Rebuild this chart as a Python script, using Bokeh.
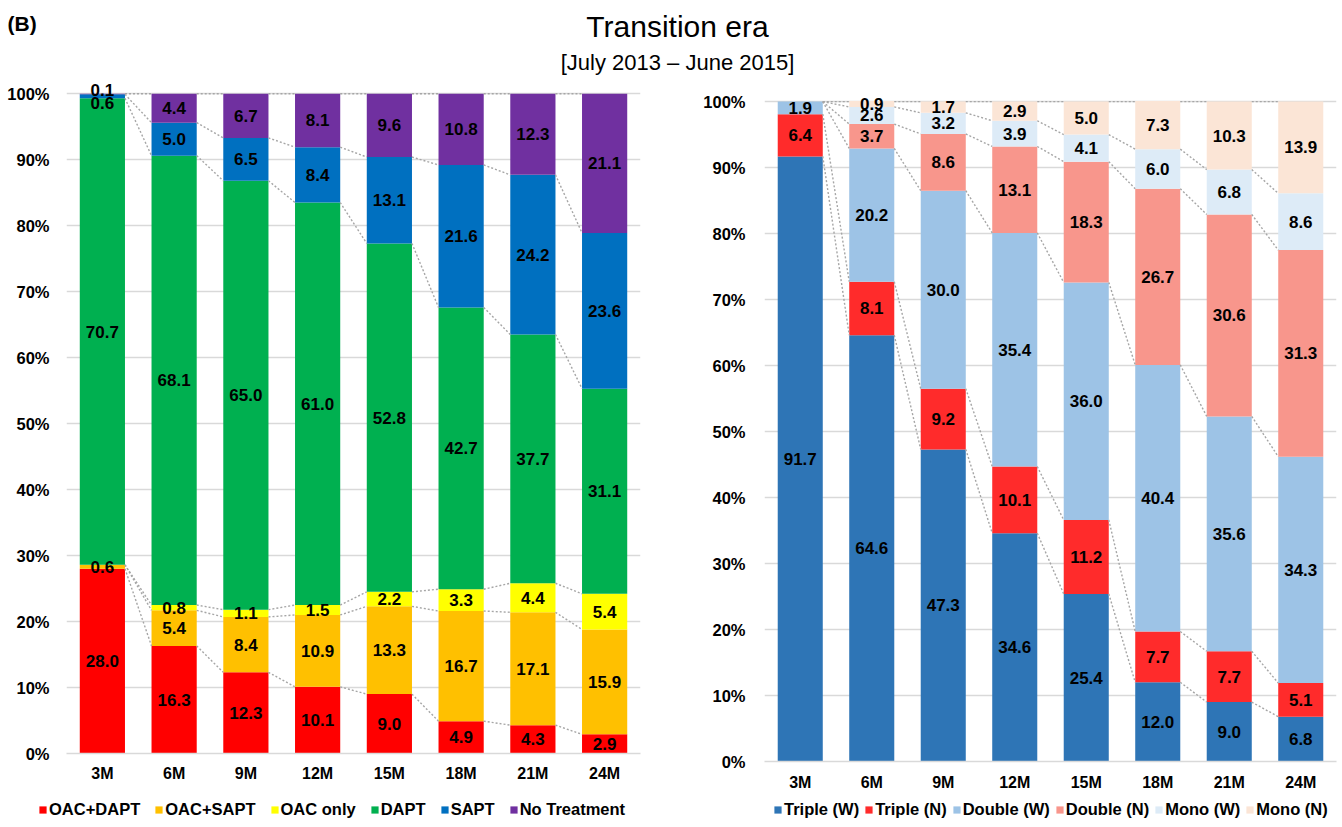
from bokeh.plotting import figure
from bokeh.layouts import column, row
from bokeh.models import (Range1d, FixedTicker, PrintfTickFormatter, Legend,
                          LegendItem, ColumnDataSource)
from bokeh.core.properties import value
from bokeh.embed import file_html
from bokeh.resources import INLINE

# ---------------- data ----------------
months = ["3M", "6M", "9M", "12M", "15M", "18M", "21M", "24M"]

# left panel (treatment)
oac_dapt = [28.0, 16.3, 12.3, 10.1, 9.0, 4.9, 4.3, 2.9]
oac_sapt = [0.6, 5.4, 8.4, 10.9, 13.3, 16.7, 17.1, 15.9]
oac_only = [0.0, 0.8, 1.1, 1.5, 2.2, 3.3, 4.4, 5.4]
dapt = [70.7, 68.1, 65.0, 61.0, 52.8, 42.7, 37.7, 31.1]
sapt = [0.6, 5.0, 6.5, 8.4, 13.1, 21.6, 24.2, 23.6]
no_treatment = [0.1, 4.4, 6.7, 8.1, 9.6, 10.8, 12.3, 21.1]
left_names = ["OAC+DAPT", "OAC+SAPT", "OAC only", "DAPT", "SAPT", "No Treatment"]
left_colors = ["#FF0000", "#FFC000", "#FFFF00", "#00B050", "#0070C0", "#7030A0"]

# right panel (therapy intensity)
triple_w = [91.7, 64.6, 47.3, 34.6, 25.4, 12.0, 9.0, 6.8]
triple_n = [6.4, 8.1, 9.2, 10.1, 11.2, 7.7, 7.7, 5.1]
double_w = [1.9, 20.2, 30.0, 35.4, 36.0, 40.4, 35.6, 34.3]
double_n = [0.0, 3.7, 8.6, 13.1, 18.3, 26.7, 30.6, 31.3]
mono_w = [0.0, 2.6, 3.2, 3.9, 4.1, 6.0, 6.8, 8.6]
mono_n = [0.0, 0.9, 1.7, 2.9, 5.0, 7.3, 10.3, 13.9]
right_names = ["Triple (W)", "Triple (N)", "Double (W)", "Double (N)", "Mono (W)", "Mono (N)"]
right_colors = ["#2E75B6", "#FF2B2B", "#9DC3E6", "#F8968C", "#DDEBF7", "#FBE5D6"]

title_text = "Transition era"
subtitle_text = "[July 2013 \u2013 June 2015]"
panel_tag = "(B)"

FONT = "Liberation Sans"
BAR_W = 0.63
GRID = "#D9D9D9"


def make_chart(series, names, colors, frame_w, frame_h, y_top, b_left, b_right,
               b_top, b_bottom, ystand, xstand, nudges):
    n = len(months)
    xs = list(range(n))
    p = figure(frame_width=frame_w, frame_height=frame_h,
               x_range=Range1d(-0.5, n - 0.5), y_range=Range1d(0, y_top),
               min_border_left=b_left, min_border_right=b_right,
               min_border_top=b_top, min_border_bottom=b_bottom,
               output_backend="svg", toolbar_location=None)
    p.outline_line_color = None
    p.xgrid.visible = False
    p.ygrid.grid_line_color = GRID
    p.ygrid.grid_line_width = 1.5

    bottoms = [0.0] * n
    lx, ly, lt, lo = [], [], [], []
    boundaries = []
    for k, (vals, name, color) in enumerate(zip(series, names, colors)):
        tops = [b + v for b, v in zip(bottoms, vals)]
        src = ColumnDataSource(dict(x=xs, bottom=bottoms, top=tops))
        p.vbar(x="x", bottom="bottom", top="top", width=BAR_W, source=src,
               fill_color=color, line_color=None)
        for i in range(n):
            if vals[i] > 0:
                lx.append(i)
                ly.append((bottoms[i] + tops[i]) / 2)
                lt.append(f"{vals[i]:.1f}")
                lo.append(nudges.get((k, i), 0))
        boundaries.append(tops)
        bottoms = tops

    # dotted connectors between bars
    x0, y0, x1, y1 = [], [], [], []
    for tops in boundaries:
        for i in range(n - 1):
            x0.append(i + BAR_W / 2)
            y0.append(min(tops[i], 100))
            x1.append(i + 1 - BAR_W / 2)
            y1.append(min(tops[i + 1], 100))
    p.segment(x0=x0, y0=y0, x1=x1, y1=y1, line_color="#A6A6A6",
              line_width=1.4, line_dash="2 2")

    p.text(x=lx, y=ly, text=lt, y_offset=lo, text_font=value(FONT),
           text_font_size="17px", text_font_style="bold", text_color="#000000",
           text_align="center", text_baseline="middle")

    p.xaxis.ticker = FixedTicker(ticks=xs)
    p.xaxis.major_label_overrides = {i: m for i, m in enumerate(months)}
    p.xaxis.axis_line_color = GRID
    p.xaxis.axis_line_width = 1.5
    p.xaxis.major_tick_line_color = None
    p.xaxis.minor_tick_line_color = None
    p.xaxis.major_label_standoff = xstand
    p.yaxis.ticker = FixedTicker(ticks=list(range(0, 101, 10)))
    p.yaxis.formatter = PrintfTickFormatter(format="%d%%")
    p.yaxis.axis_line_color = None
    p.yaxis.major_tick_line_color = None
    p.yaxis.minor_tick_line_color = None
    p.yaxis.major_label_standoff = ystand
    p.xaxis.major_label_text_font_size = "16px"
    p.yaxis.major_label_text_font_size = "16.5px"
    for ax in (p.xaxis[0], p.yaxis[0]):
        ax.major_label_text_font = FONT
        ax.major_label_text_font_style = "bold"
        ax.major_label_text_color = "#000000"
    return p


def make_legend(names, colors, width, left_px, gap):
    # legend-only strip: one placeholder bar per series, kept outside the view
    lg = figure(frame_width=width, frame_height=26, x_range=Range1d(0, 1),
                y_range=Range1d(0, 1), x_axis_type=None, y_axis_type=None,
                min_border=0, output_backend="svg", toolbar_location=None)
    lg.outline_line_color = None
    lg.grid.visible = False
    items = []
    for name, color in zip(names, colors):
        r = lg.vbar(x=[-5], top=[0], width=0.1, fill_color=color, line_color=None)
        items.append(LegendItem(label=name, renderers=[r]))
    legend = Legend(items=items, orientation="horizontal", location=(left_px, 0),
                    label_text_font=FONT, label_text_font_size="16.5px",
                    label_text_font_style="bold", label_text_color="#000000",
                    glyph_width=9, glyph_height=9, label_standoff=2, spacing=gap,
                    padding=0, margin=0, border_line_color=None,
                    background_fill_alpha=0)
    lg.add_layout(legend)
    return lg


left = make_chart([oac_dapt, oac_sapt, oac_only, dapt, sapt, no_treatment],
                  left_names, left_colors, 574, 673, 102, 66, 40, 2, 40, 11, 5,
                  {(4, 0): 7, (5, 0): -4})
right = make_chart([triple_w, triple_n, double_w, double_n, mono_w, mono_n],
                   right_names, right_colors, 572, 681, 103.2, 84, 4, 2, 32, 13, 6,
                   {})
left_leg = make_legend(left_names, left_colors, 680, 38, 14)
right_leg = make_legend(right_names, right_colors, 660, 93, 5)

# header with title
head = figure(frame_width=1340, frame_height=78, x_range=Range1d(0, 1340),
              y_range=Range1d(78, 0), x_axis_type=None, y_axis_type=None,
              min_border=0, output_backend="svg", toolbar_location=None)
head.outline_line_color = None
head.grid.visible = False
head.text(x=[677], y=[26], text=[title_text], text_font=value(FONT),
          text_font_size="30px", text_color="#000000", text_align="center",
          text_baseline="middle")
head.text(x=[677], y=[62], text=[subtitle_text], text_font=value(FONT),
          text_font_size="22px", text_color="#000000", text_align="center",
          text_baseline="middle")
head.text(x=[7], y=[23], text=[panel_tag], text_font=value(FONT),
          text_font_size="21px", text_font_style="bold", text_color="#000000",
          text_align="left", text_baseline="middle")

layout = column(head,
                row(column(left, left_leg, spacing=0),
                    column(right, right_leg, spacing=0), spacing=0),
                spacing=0)
open("out.html", "w").write(file_html(layout, INLINE))
